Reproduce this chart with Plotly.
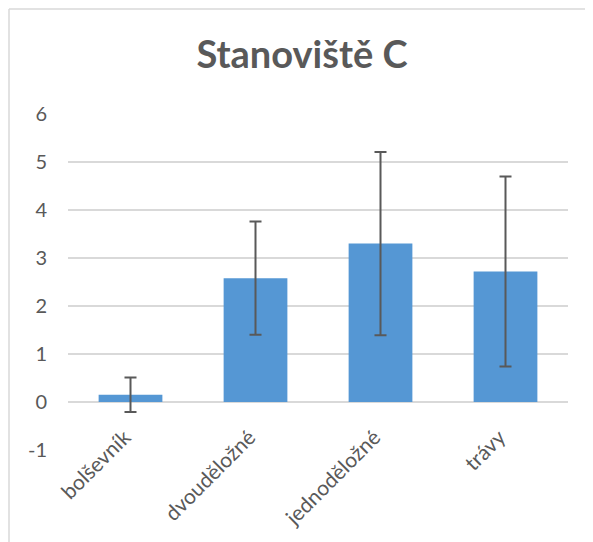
import plotly.graph_objects as go

categories = ["bolševník", "dvouděložné", "jednoděložné", "trávy"]
means = [0.15, 2.58, 3.30, 2.72]
errors = [0.36, 1.18, 1.91, 1.98]
y_ticks = [-1, 0, 1, 2, 3, 4, 5, 6]
y_tick_text = ["-1", "0", "1", "2", "3", "4", "5", "6"]

fig = go.Figure()
fig.add_trace(go.Bar(
    x=categories,
    y=means,
    marker=dict(color="#5597d4", line=dict(width=0)),
    error_y=dict(type="data", array=errors, visible=True,
                 color="#595959", thickness=2, width=6),
))

# page body has an 8px margin in the browser; compensate
OFF = 8
W, H = 593, 542
L, T = 68 - OFF, 114 - OFF
pw, ph = 500, 336
R, B = W - L - pw, H - T - ph

fig.update_layout(
    width=W, height=H,
    margin=dict(l=L, r=R, t=T, b=B, autoexpand=False),
    paper_bgcolor="white", plot_bgcolor="white",
    bargap=0.49,
    showlegend=False,
    font=dict(family="Lato, 'Open Sans', sans-serif", color="#595959", size=20),
    title=dict(text="<b>Stanoviště C</b>", x=(302 - OFF) / W, xanchor="center",
               y=1 - (55 - OFF) / H, yanchor="middle",
               font=dict(size=38, color="#595959", family="Lato, 'Open Sans', sans-serif")),
    xaxis=dict(tickangle=-45, showgrid=False, showline=False, ticks="",
               anchor="free", position=1 / 7, automargin=False,
               ticklabelstandoff=18, ticklabelshift=-6,
               tickfont=dict(size=21, color="#595959")),
    yaxis=dict(range=[-1, 6], tickvals=y_ticks, ticktext=y_tick_text,
               showgrid=True, gridcolor="#d9d9d9",
               gridwidth=1.5, zeroline=True, zerolinecolor="#d9d9d9", zerolinewidth=1.5,
               showline=False, ticks="", ticklabelstandoff=20, automargin=False,
               tickfont=dict(size=20, color="#595959")),
    shapes=[
        dict(type="line", xref="paper", yref="paper",
             x0=(9 - OFF - L) / pw, x1=(9 - OFF - L) / pw,
             y0=1 + (T - 9 + OFF) / ph, y1=-(B + 20) / ph,
             line=dict(color="#d9d9d9", width=1.5)),
        dict(type="line", xref="paper", yref="paper",
             x0=(9 - OFF - L) / pw, x1=1 + (R + 20) / pw,
             y0=1 + (T - 9 + OFF) / ph, y1=1 + (T - 9 + OFF) / ph,
             line=dict(color="#d9d9d9", width=1.5)),
    ],
)

fig.write_html("out.html")
